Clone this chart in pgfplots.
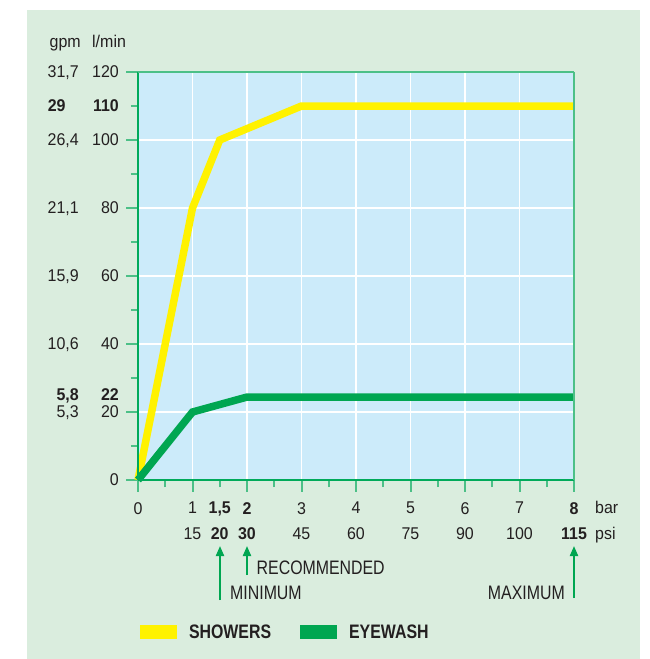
\documentclass[border=0pt]{standalone}
\usepackage{fontspec}
\setmainfont{Liberation Sans}[FakeStretch=0.94]
\newfontfamily\capsfont{Liberation Sans}[FakeStretch=0.815]
\usepackage{pgfplots}
\pgfplotsset{compat=1.18}
\usetikzlibrary{arrows.meta}

\definecolor{panel}{RGB}{218,237,222}
\definecolor{plotblue}{RGB}{204,235,250}
\definecolor{showyellow}{RGB}{255,242,0}
\definecolor{eyegreen}{RGB}{0,166,81}
\definecolor{axgreen}{RGB}{0,170,90}
\definecolor{ticklight}{RGB}{76,192,135}
\definecolor{txt}{RGB}{35,31,32}

% two-column y labels: gpm | l/min
\newcommand{\yl}[2]{\makebox[34pt][r]{#1}\hspace{10pt}\makebox[30pt][r]{#2}}
\newcommand{\yll}[2]{\makebox[34pt][l]{\hspace{3pt}#1}\hspace{10pt}\makebox[30pt][r]{#2}}
\newcommand{\tfont}{\fontsize{17}{25.5}\selectfont}
\newcommand{\cfont}{\capsfont\fontsize{19.5}{22}\selectfont}

\begin{document}
\begin{tikzpicture}
\fill[white] (0pt,0pt) rectangle (650pt,-659pt);
\fill[panel] (27pt,-10pt) rectangle (640pt,-659pt);

\begin{axis}[
    at={(138pt,-480pt)}, anchor=south west,
    scale only axis, width=436pt, height=408pt,
    xmin=0, xmax=8, ymin=0, ymax=120,
    clip=false,
    axis background/.style={fill=plotblue},
    axis line style={draw=none},
    tick pos=left, tick align=outside,
    major tick length=11.5pt, minor tick length=7pt,
    tick style={color=ticklight, line width=2pt},
    xtick={0,...,8}, ytick={0,20,...,120},
    minor x tick num=1, minor y tick num=1,
    grid=major, major grid style={white, line width=1.5pt},
    tick label style={font=\tfont, text=txt},
    xticklabel style={align=center, anchor=north, inner sep=0pt, yshift=-10.5pt},
    yticklabel style={anchor=east, inner sep=0pt, xshift=-7.5pt,
        text height=12.3pt, text depth=1.5pt},
    xticklabels={0, {1\\15}, {\textbf{2}\\\textbf{30}}, {3\\45}, {4\\60},
        {5\\75}, {6\\90}, {7\\100}, {\textbf{8}\\\textbf{115}}},
    yticklabels={{\yl{}{0}}, {\yl{5,3}{20}}, {\yl{10,6}{40}}, {\yl{15,9}{60}},
        {\yl{21,1}{80}}, {\yl{26,4}{100}}, {\yl{31,7}{120}}},
    extra x ticks={1.5},
    extra x tick labels={{\textbf{1,5}\\\textbf{20}}},
    extra x tick style={major tick length=7pt, grid=none,
        xticklabel style={yshift=-4.5pt}},
    extra y ticks={25,110},
    extra y tick labels={{\bfseries\yl{5,8}{22}}, {\bfseries\yll{29}{110}}},
    extra y tick style={grid=none, tick style={draw=none}},
    legend columns=2,
    legend image code/.code={\path[fill, draw=none] (0pt,-7pt) rectangle (37pt,7pt);},
    legend style={at={(axis description cs:0.0046,-0.3725)}, anchor=west,
        draw=none, fill=none, inner sep=0pt, outer sep=0pt,
        font=\cfont\bfseries, text=txt,
        nodes={inner sep=0pt},
        /tikz/every odd column/.append style={column sep=12pt},
        /tikz/every even column/.append style={column sep=29pt}},
]
\addplot[color=showyellow, line width=7.5pt] coordinates {
    (0,0) (1,80) (1.5,100) (3,110) (8,110)
};
\addlegendentry{SHOWERS}
\addplot[color=eyegreen, line width=7.5pt] coordinates {
    (0,0) (1,20) (2,24.4) (8,24.4)
};
\addlegendentry{EYEWASH}
\draw[axgreen, line width=2pt] (axis cs:0,0) -- (axis cs:0,120);
\draw[axgreen, line width=2pt] (axis cs:0,0) -- (axis cs:8,0);
\draw[ticklight, line width=2pt] (axis cs:0,120) -- (axis cs:8,120);
\draw[ticklight, line width=2pt] (axis cs:8,120) -- (axis cs:8,0);
\end{axis}

% headers and units
\node[anchor=base east, inner sep=0pt, text=txt, font=\tfont] at (81pt,-47pt) {gpm};
\node[anchor=base west, inner sep=0pt, text=txt, font=\tfont] at (92pt,-47pt) {l/min};
\node[anchor=base west, inner sep=0pt, text=txt, font=\tfont] at (595pt,-513.3pt) {bar};
\node[anchor=base west, inner sep=0pt, text=txt, font=\tfont] at (595pt,-539pt) {psi};

% annotations
\draw[eyegreen, line width=2pt, -{Triangle[width=8pt,length=10pt]}] (220pt,-600pt) -- (220pt,-546pt);
\draw[eyegreen, line width=2pt, -{Triangle[width=8pt,length=10pt]}] (247pt,-575pt) -- (247pt,-546pt);
\draw[eyegreen, line width=2pt, -{Triangle[width=8pt,length=10pt]}] (574pt,-598pt) -- (574pt,-546pt);
\node[anchor=west, inner sep=0pt, text=txt, font=\cfont] at (256.5pt,-568pt) {RECOMMENDED};
\node[anchor=west, inner sep=0pt, text=txt, font=\cfont] at (230pt,-593pt) {MINIMUM};
\node[anchor=east, inner sep=0pt, text=txt, font=\cfont] at (565pt,-593pt) {MAXIMUM};
\end{tikzpicture}
\end{document}
